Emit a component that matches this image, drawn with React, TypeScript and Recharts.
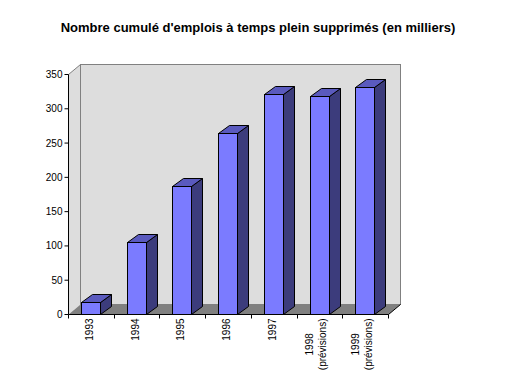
import { BarChart, Bar, XAxis, YAxis, ReferenceArea } from "recharts";

const years = ["1993", "1994", "1995", "1996", "1997", "1998", "1999"];
const yearNotes = ["", "", "", "", "", "(prévisions)", "(prévisions)"];
const jobsCut = [17, 105, 187, 264, 321, 318, 331];
const valueTicks = [0, 50, 100, 150, 200, 250, 300, 350];

const data = years.map((year, i) => ({ year, jobs: jobsCut[i] }));

const FONT = "Arial, 'Liberation Sans', sans-serif";
// depth of the box (walls / floor) and of each column
const WALL_DX = 12;
const WALL_DY = 10;
const BAR_DX = 11;
const BAR_DY = 8;

const crisp = (v: number) => Math.floor(v) + 0.5;

let measureCtx: CanvasRenderingContext2D | null = null;
function textWidth(s: string) {
  if (!measureCtx) measureCtx = document.createElement("canvas").getContext("2d");
  if (!measureCtx) return s.length * 5.5;
  measureCtx.font = `10px ${FONT}`;
  return measureCtx.measureText(s).width;
}

function Walls(props: any) {
  const l = crisp(props.x);
  const t = crisp(props.y);
  const r = crisp(props.x + props.width);
  const b = crisp(props.y + props.height);
  return (
    <g>
      <polygon
        points={`${l},${t} ${l + WALL_DX},${t - WALL_DY} ${l + WALL_DX},${b - WALL_DY} ${l},${b}`}
        fill="#DDDDDD"
      />
      <rect
        x={l + WALL_DX}
        y={t - WALL_DY}
        width={r - l}
        height={b - t}
        fill="#DDDDDD"
        stroke="#808080"
      />
      <polygon
        points={`${l},${b} ${l + WALL_DX},${b - WALL_DY} ${r + WALL_DX},${b - WALL_DY} ${r},${b}`}
        fill="#808080"
      />
      <line x1={l} y1={t} x2={l + WALL_DX} y2={t - WALL_DY} stroke="#808080" />
      <line x1={r} y1={b} x2={r + WALL_DX} y2={b - WALL_DY} stroke="#000" />
    </g>
  );
}

function Column(props: any) {
  const { x, y, width, height } = props;
  if (height == null || width == null) return null;
  const l = crisp(x);
  const r = l + Math.round(width);
  const t = crisp(y);
  const b = crisp(y + height);
  return (
    <g stroke="#000" strokeWidth={1}>
      <polygon
        points={`${r},${t} ${r + BAR_DX},${t - BAR_DY} ${r + BAR_DX},${b - BAR_DY} ${r},${b}`}
        fill="#3C3C7C"
      />
      <polygon
        points={`${l},${t} ${l + BAR_DX},${t - BAR_DY} ${r + BAR_DX},${t - BAR_DY} ${r},${t}`}
        fill="#5A5ABE"
      />
      <rect x={l} y={t} width={r - l} height={b - t} fill="#7B7BFF" />
    </g>
  );
}

function YearTick(props: any) {
  const { x, y, payload, index } = props;
  const half = payload?.offset || 160 / years.length;
  const lines = [payload.value, yearNotes[index]].filter(Boolean) as string[];
  const longest = Math.max(...lines.map(textWidth));
  const n = lines.length;
  const top = y + 4;
  const left = crisp(x - half);
  const right = crisp(x + half);
  return (
    <g>
      <line x1={left} y1={y} x2={left} y2={y + 4} stroke="#000" />
      {index === years.length - 1 && (
        <line x1={right} y1={y} x2={right} y2={y + 4} stroke="#000" />
      )}
      {lines.map((s, i) => {
        const bx = x + 1.5 + (i - (n - 1) / 2) * 13 - (n - 1) * 2;
        return (
          <text
            key={i}
            transform={`translate(${bx},${top}) rotate(-90)`}
            x={-longest / 2}
            y={0}
            textAnchor="middle"
            fontSize={10}
            fontFamily={FONT}
            fill="#000"
          >
            {s}
          </text>
        );
      })}
    </g>
  );
}

export default function App() {
  return (
    <div style={{ position: "relative", width: 520, height: 388, background: "#fff" }}>
      <style>{`body{margin:0}`}</style>
      <div
        style={{
          position: "absolute",
          top: 20,
          left: 0,
          width: 516,
          textAlign: "center",
          fontFamily: FONT,
          fontWeight: "bold",
          fontSize: 13,
          color: "#000",
        }}
      >
        Nombre cumulé d'emplois à temps plein supprimés (en milliers)
      </div>
      <BarChart
        width={520}
        height={388}
        data={data}
        margin={{ top: 74.5, right: 131.5, bottom: 13.5, left: 8.5 }}
        barSize={19}
      >
        <ReferenceArea y1={0} y2={350} shape={<Walls />} ifOverflow="visible" />
        <XAxis
          dataKey="year"
          interval={0}
          height={60}
          tickLine={false}
          tickSize={0}
          tickMargin={0}
          axisLine={{ stroke: "#000" }}
          tick={<YearTick />}
        />
        <YAxis
          type="number"
          domain={[0, 350]}
          ticks={valueTicks}
          interval={0}
          width={60}
          tickSize={4}
          tickMargin={2}
          axisLine={{ stroke: "#000" }}
          tickLine={{ stroke: "#000" }}
          tick={{ fontSize: 10, fill: "#000", fontFamily: FONT }}
        />
        <Bar dataKey="jobs" shape={<Column />} isAnimationActive={false} />
      </BarChart>
    </div>
  );
}
